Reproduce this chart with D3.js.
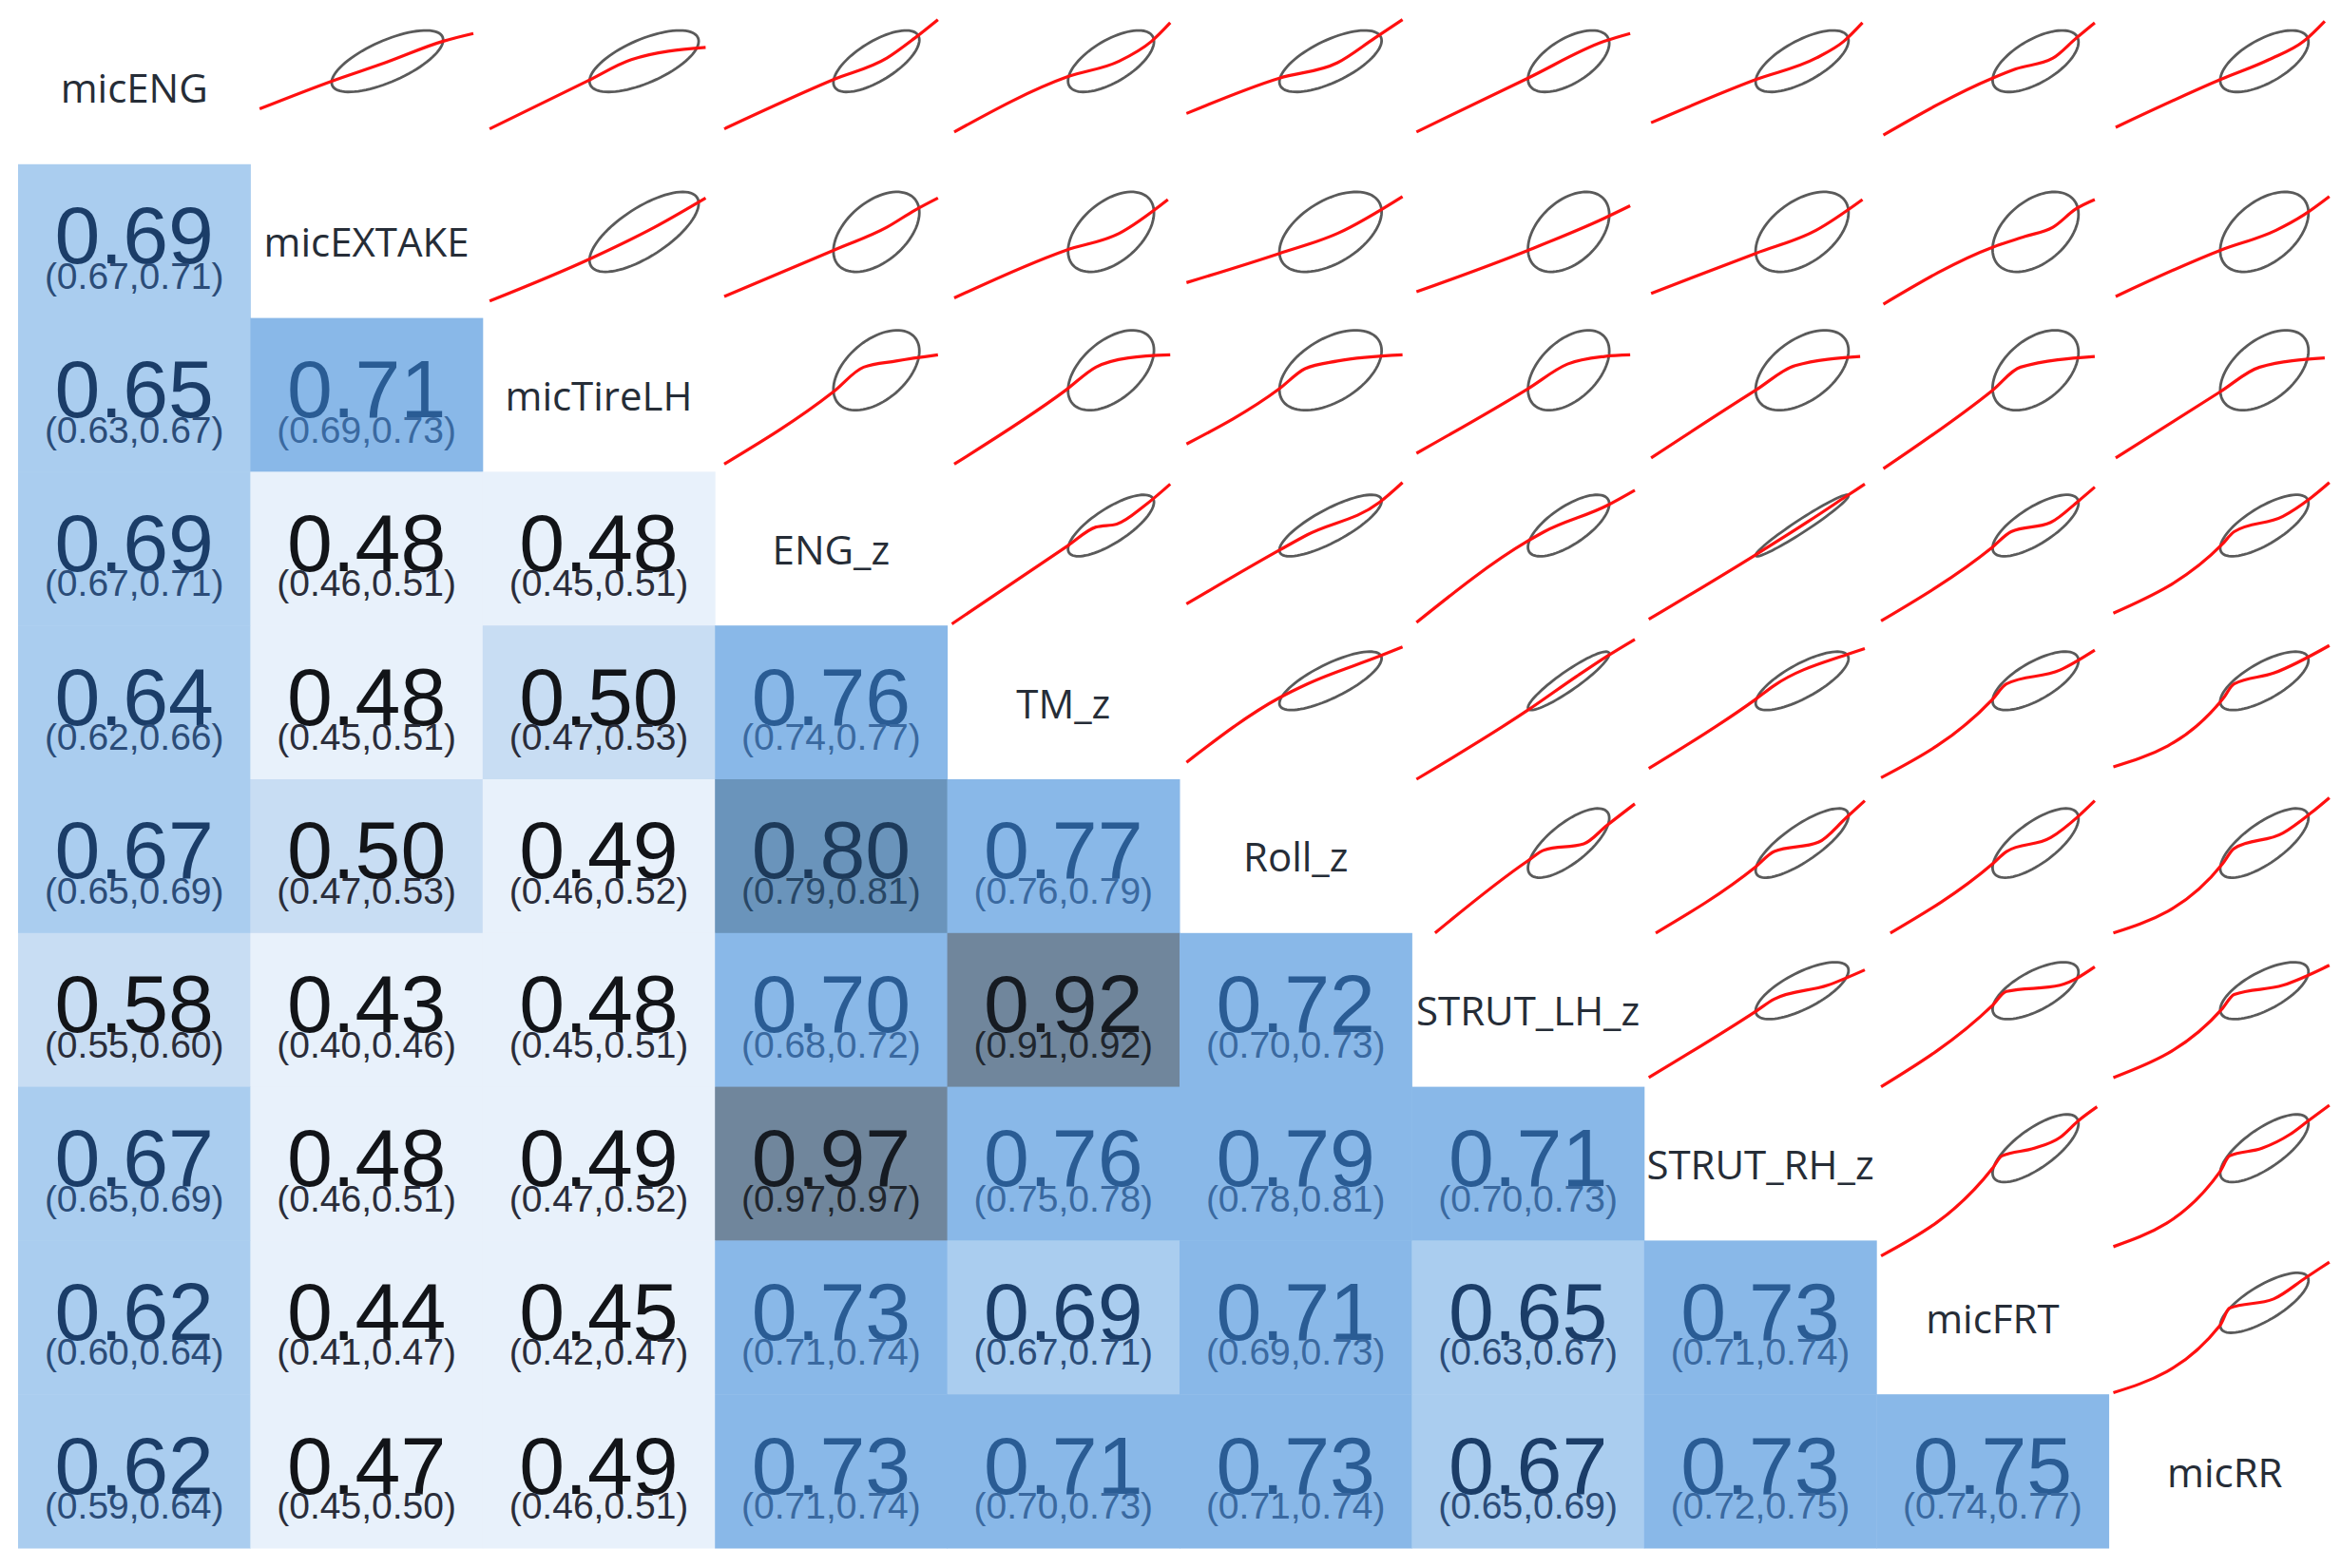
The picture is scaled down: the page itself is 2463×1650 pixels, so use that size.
<!DOCTYPE html>
<html><head><meta charset="utf-8">
<script src="https://cdn.jsdelivr.net/npm/d3@7/dist/d3.min.js"></script>
<style>html,body{margin:0;padding:0;background:#fff;} svg{display:block;}</style>
</head><body>
<svg id="chart" width="2463" height="1650"></svg>
<script>
// ---------- DATA ----------
const variables = ["micENG","micEXTAKE","micTireLH","ENG_z","TM_z","Roll_z","STRUT_LH_z","STRUT_RH_z","micFRT","micRR"];

// lower triangle, row i holds correlations with columns 0..i-1
const corrValues = [
  [],
  [0.69],
  [0.65,0.71],
  [0.69,0.48,0.48],
  [0.64,0.48,0.50,0.76],
  [0.67,0.50,0.49,0.80,0.77],
  [0.58,0.43,0.48,0.70,0.92,0.72],
  [0.67,0.48,0.49,0.97,0.76,0.79,0.71],
  [0.62,0.44,0.45,0.73,0.69,0.71,0.65,0.73],
  [0.62,0.47,0.49,0.73,0.71,0.73,0.67,0.73,0.75]
];
const ciLower = [
  [],
  [0.67],
  [0.63,0.69],
  [0.67,0.46,0.45],
  [0.62,0.45,0.47,0.74],
  [0.65,0.47,0.46,0.79,0.76],
  [0.55,0.40,0.45,0.68,0.91,0.70],
  [0.65,0.46,0.47,0.97,0.75,0.78,0.70],
  [0.60,0.41,0.42,0.71,0.67,0.69,0.63,0.71],
  [0.59,0.45,0.46,0.71,0.70,0.71,0.65,0.72,0.74]
];
const ciUpper = [
  [],
  [0.71],
  [0.67,0.73],
  [0.71,0.51,0.51],
  [0.66,0.51,0.53,0.77],
  [0.69,0.53,0.52,0.81,0.79],
  [0.60,0.46,0.51,0.72,0.92,0.73],
  [0.69,0.51,0.52,0.97,0.78,0.81,0.73],
  [0.64,0.47,0.47,0.74,0.71,0.73,0.67,0.74],
  [0.64,0.50,0.51,0.74,0.73,0.74,0.69,0.75,0.77]
];

// per-variable mean / sd in normalized panel units (x when variable is on columns, y when on rows)
const xMeans = [null,0.59,0.695,0.695,0.705,0.65,0.675,0.68,0.685,0.67];
const xSds   = [null,0.24,0.235,0.185,0.185,0.22,0.175,0.20,0.185,0.19];
const yMeans = [0.67,0.56,0.66,0.65,0.64,0.585,0.625,0.60,0.595,null];
const ySds   = [0.20,0.26,0.26,0.20,0.19,0.225,0.185,0.22,0.195,null];

// smoothed (loess) curves for upper panels, key "row-col", points [x, y] in panel units
const smoothCurves = {
 "0-1":[[.04,.36],[.35,.54],[.58,.66],[.83,.80],[.96,.85]],
 "0-2":[[.03,.23],[.45,.54],[.64,.68],[.96,.76]],
 "0-3":[[.04,.23],[.51,.55],[.74,.69],[.86,.82],[.96,.94]],
 "0-4":[[.03,.21],[.52,.57],[.74,.67],[.88,.80],[.96,.92]],
 "0-5":[[.03,.33],[.43,.56],[.68,.66],[.84,.82],[.96,.94]],
 "0-6":[[.02,.21],[.50,.56],[.83,.80],[.94,.85]],
 "0-7":[[.03,.27],[.48,.55],[.74,.69],[.86,.80],[.94,.92]],
 "0-8":[[.03,.19],[.50,.56],[.60,.62],[.76,.69],[.86,.82],[.94,.92]],
 "0-9":[[.03,.24],[.48,.55],[.69,.68],[.84,.80],[.93,.93]],
 "1-2":[[.03,.11],[.47,.39],[.74,.59],[.96,.78]],
 "1-3":[[.04,.14],[.51,.44],[.74,.59],[.86,.70],[.96,.78]],
 "1-4":[[.03,.13],[.51,.44],[.74,.55],[.95,.77]],
 "1-5":[[.03,.23],[.43,.42],[.68,.55],[.96,.79]],
 "1-6":[[.02,.17],[.50,.44],[.83,.65],[.94,.73]],
 "1-7":[[.03,.16],[.48,.42],[.74,.57],[.94,.77]],
 "1-8":[[.03,.09],[.50,.46],[.64,.53],[.76,.59],[.86,.71],[.94,.77]],
 "1-9":[[.03,.14],[.48,.44],[.72,.57],[.84,.67],[.95,.79]],
 "2-3":[[.04,.05],[.51,.52],[.64,.68],[.78,.72],[.96,.76]],
 "2-4":[[.03,.05],[.51,.53],[.64,.68],[.78,.74],[.96,.76]],
 "2-5":[[.03,.18],[.43,.54],[.54,.67],[.68,.72],[.96,.76]],
 "2-6":[[.02,.12],[.50,.54],[.67,.70],[.83,.75],[.94,.76]],
 "2-7":[[.03,.09],[.48,.53],[.65,.69],[.93,.75]],
 "2-8":[[.03,.02],[.50,.53],[.62,.68],[.94,.75]],
 "2-9":[[.03,.09],[.48,.52],[.65,.68],[.93,.74]],
 "3-4":[[.02,.01],[.52,.52],[.64,.64],[.73,.66],[.85,.78],[.96,.92]],
 "3-5":[[.03,.14],[.43,.49],[.55,.59],[.86,.80],[.96,.93]],
 "3-6":[[.02,.02],[.50,.55],[.57,.61],[.84,.78],[.96,.88]],
 "3-7":[[.02,.04],[.48,.46],[.71,.68],[.87,.84],[.95,.92]],
 "3-8":[[.02,.03],[.50,.51],[.58,.61],[.75,.67],[.87,.81],[.94,.90]],
 "3-9":[[.02,.08],[.49,.53],[.54,.61],[.75,.71],[.87,.83],[.95,.93]],
 "4-5":[[.03,.11],[.43,.53],[.55,.62],[.86,.80],[.96,.86]],
 "4-6":[[.02,.00],[.50,.45],[.71,.67],[.84,.80],[.96,.91]],
 "4-7":[[.02,.07],[.48,.52],[.56,.61],[.87,.81],[.95,.85]],
 "4-8":[[.02,.01],[.50,.52],[.56,.62],[.79,.71],[.94,.84]],
 "4-9":[[.02,.08],[.49,.52],[.54,.62],[.71,.69],[.95,.87]],
 "5-6":[[.10,.00],[.50,.47],[.57,.54],[.74,.58],[.84,.70],[.96,.84]],
 "5-7":[[.05,.00],[.48,.43],[.56,.53],[.75,.59],[.87,.75],[.95,.86]],
 "5-8":[[.06,.00],[.50,.45],[.56,.53],[.75,.62],[.87,.76],[.94,.86]],
 "5-9":[[.02,.00],[.49,.45],[.54,.55],[.75,.65],[.87,.78],[.95,.88]],
 "6-7":[[.02,.06],[.48,.49],[.56,.57],[.79,.66],[.95,.76]],
 "6-8":[[.02,.00],[.50,.53],[.56,.62],[.79,.66],[.94,.78]],
 "6-9":[[.02,.06],[.49,.51],[.54,.60],[.75,.66],[.95,.79]],
 "7-8":[[.02,-.10],[.50,.47],[.54,.55],[.68,.60],[.79,.67],[.87,.78],[.95,.87]],
 "7-9":[[.02,-.04],[.48,.45],[.52,.55],[.66,.60],[.78,.69],[.86,.78],[.95,.88]],
 "8-9":[[.02,.01],[.48,.45],[.52,.56],[.71,.62],[.85,.76],[.95,.86]]
};

// ---------- DRAW ----------
const W = 2463, H = 1650;
const svg = d3.select("#chart");
svg.append("rect").attr("width",W).attr("height",H).attr("fill","#fff");

const n = variables.length;
const xBand = d3.scaleBand().domain(d3.range(n)).range([19, 2463]);
const yBand = d3.scaleBand().domain(d3.range(n)).range([11, 1629]);
const bw = xBand.bandwidth(), bh = yBand.bandwidth();

const fillScale = d3.scaleThreshold().domain([0.5,0.6,0.7,0.8,0.9])
  .range(["#e8f1fb","#c8ddf3","#aacdef","#89b8e8","#6a94bb","#70869c"]);
const numColor = d3.scaleThreshold().domain([0.5,0.6,0.7,0.8,0.9])
  .range(["#121418","#121418","#1b3d68","#2a5c94","#1d3a5a","#161b22"]);
const ciColor = d3.scaleThreshold().domain([0.5,0.6,0.7,0.8,0.9])
  .range(["#2a2d3a","#2a2d3a","#2b4c78","#3a69a0","#284766","#20262e"]);
const fmt = d3.format(".2f");

// lower triangle cells
const lowerCells = [];
corrValues.forEach((row,i)=>row.forEach((r,j)=>lowerCells.push({i,j,r,lo:ciLower[i][j],hi:ciUpper[i][j]})));

const lg = svg.append("g");
lg.selectAll("rect").data(lowerCells).join("rect")
  .attr("x",d=>xBand(d.j)).attr("y",d=>yBand(d.i))
  .attr("width",bw+0.5).attr("height",bh+0.5)
  .attr("fill",d=>fillScale(d.r));
lg.selectAll("text.num").data(lowerCells).join("text").attr("class","num")
  .attr("x",d=>xBand(d.j)+bw/2).attr("y",d=>yBand(d.i)+bh*0.645)
  .attr("text-anchor","middle")
  .style("font-family","'Liberation Sans', Arial, sans-serif").style("font-size","86px")
  .attr("fill",d=>numColor(d.r)).text(d=>fmt(d.r));
lg.selectAll("text.ci").data(lowerCells).join("text").attr("class","ci")
  .attr("x",d=>xBand(d.j)+bw/2).attr("y",d=>yBand(d.i)+bh*0.81)
  .attr("text-anchor","middle")
  .style("font-family","'Liberation Sans', Arial, sans-serif").style("font-size","39px")
  .attr("fill",d=>ciColor(d.r)).text(d=>"("+fmt(d.lo)+","+fmt(d.hi)+")");

// diagonal labels
svg.append("g").selectAll("text").data(variables).join("text")
  .attr("x",(d,i)=>xBand(i)+bw/2).attr("y",(d,i)=>yBand(i)+bh/2)
  .attr("text-anchor","middle").attr("dominant-baseline","central")
  .style("font-family","'Open Sans', 'Noto Sans', sans-serif").style("font-size","42px").style("font-weight","500")
  .attr("fill","#262d37").text(d=>d);

// upper triangle: ellipse + smooth
const ug = svg.append("g");
const lineGen = d3.line().curve(d3.curveMonotoneX);
const angles = d3.range(0, 2*Math.PI, Math.PI/40);
for (let i=0;i<n;i++){
  for (let j=i+1;j<n;j++){
    const xs = d3.scaleLinear().domain([0,1]).range([xBand(j), xBand(j)+bw]);
    const ys = d3.scaleLinear().domain([0,1]).range([yBand(i)+bh, yBand(i)]);
    const r = corrValues[j][i];
    const mx = xMeans[j], sx = xSds[j], my = yMeans[i], sy = ySds[i];
    const s = Math.sqrt(1-r*r);
    const ell = angles.map(a=>[xs(mx+sx*Math.cos(a)), ys(my+sy*(r*Math.cos(a)+s*Math.sin(a)))]);
    ug.append("path").attr("d", d3.line().curve(d3.curveLinearClosed)(ell))
      .attr("fill","none").attr("stroke","#5a5a5a").attr("stroke-width",2.8);
    const pts = smoothCurves[i+"-"+j].map(p=>[xs(p[0]), ys(p[1])]);
    ug.append("path").attr("d", lineGen(pts))
      .attr("fill","none").attr("stroke","#ff1010").attr("stroke-width",3.2);
  }
}
</script>
</body></html>
